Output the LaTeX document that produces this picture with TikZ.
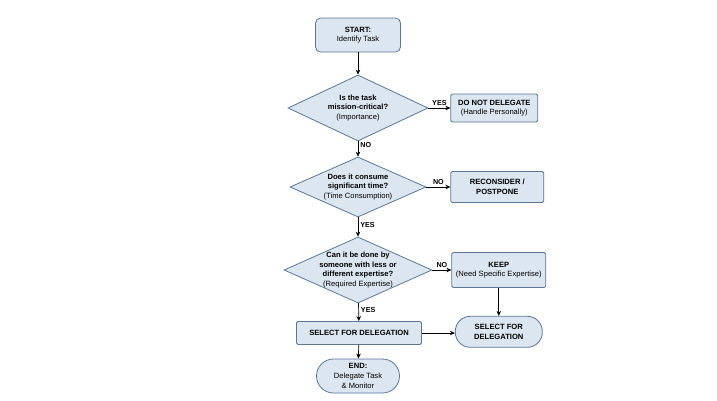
\documentclass[tikz,border=0pt]{standalone}
\usepackage{fontspec}
\setmainfont{Liberation Sans}
\usepackage{xcolor}
\usetikzlibrary{arrows.meta,positioning,shapes.geometric}

\definecolor{boxfill}{HTML}{DCE6F1}
\definecolor{boxline}{HTML}{5A7796}

\begin{document}
\begin{tikzpicture}[
  x=1pt, y=1pt,
  base/.style={draw=boxline, fill=boxfill, line width=0.8pt, align=center,
    font=\fontsize{7.6}{9.6}\selectfont, inner sep=1pt},
  proc/.style={base, rounded corners=1.5pt},
  term/.style={base, rounded corners=5pt},
  pill/.style={base, rounded corners=15pt},
  dec/.style={base, diamond, inner sep=0pt},
  qtext/.style={align=center, font=\fontsize{7.6}{9.6}\selectfont, inner sep=0pt},
  arr/.style={-{Stealth[length=5pt,width=4.5pt]}, line width=0.7pt},
  lab/.style={font=\fontsize{7.2}{8}\selectfont\bfseries, inner sep=2pt},
]
\useasboundingbox (0,0) rectangle (717,-400);
% main column
\node[term, minimum width=85pt, minimum height=34pt] (start) at (358,-35)
  {\textbf{START:}\\Identify Task};
\node[dec, minimum width=140pt, minimum height=66pt,
  label={[qtext]center:\textbf{Is the task}\\\textbf{mission-critical?}\\(Importance)}]
  (crit) at (358,-108) {};
\node[dec, minimum width=136pt, minimum height=60pt,
  label={[qtext]center:\textbf{Does it consume}\\\textbf{significant time?}\\(Time Consumption)}]
  (time) at (358,-187) {};
\node[dec, minimum width=148pt, minimum height=66pt,
  label={[qtext]center:\textbf{Can it be done by}\\\textbf{someone with less or}\\\textbf{different expertise?}\\(Required Expertise)}]
  (exp) at (358,-270) {};
\node[proc, minimum width=125pt, minimum height=23pt] (sel) at (359,-333)
  {\textbf{SELECT FOR DELEGATION}};
\node[pill, minimum width=83pt, minimum height=34pt, rounded corners=17pt] (fin) at (358,-376)
  {\textbf{END:}\\Delegate Task\\\& Monitor};
% side outcomes
\node[proc, minimum width=87pt, minimum height=28pt, right=22pt of crit] (nodel)
  {\textbf{DO NOT DELEGATE}\\(Handle Personally)};
\node[proc, minimum width=93pt, minimum height=31pt, right=24pt of time] (recon)
  {\textbf{RECONSIDER /}\\\textbf{POSTPONE}};
\node[proc, minimum width=94pt, minimum height=35pt, right=19pt of exp] (keep)
  {\textbf{KEEP}\\(Need Specific Expertise)};
\node[pill, minimum width=87pt, minimum height=31pt, below=28pt of keep] (selr)
  {\textbf{SELECT FOR}\\\textbf{DELEGATION}};
% connectors
\draw[arr] (start) -- (crit);
\draw[arr] (crit) -- node[lab, above]{YES} (nodel);
\draw[arr] (crit) -- node[lab, right, pos=0.25]{NO} (time);
\draw[arr] (time) -- node[lab, above]{NO} (recon);
\draw[arr] (time) -- node[lab, right, pos=0.4]{YES} (exp);
\draw[arr] (exp) -- node[lab, above]{NO} (keep);
\draw[arr] (exp) -- node[lab, right, pos=0.4]{YES} (sel);
\draw[arr] (keep) -- (selr);
\draw[arr] (sel.east) -- (sel.east -| selr.west);
\draw[arr] (sel) -- (fin);
\end{tikzpicture}
\end{document}
